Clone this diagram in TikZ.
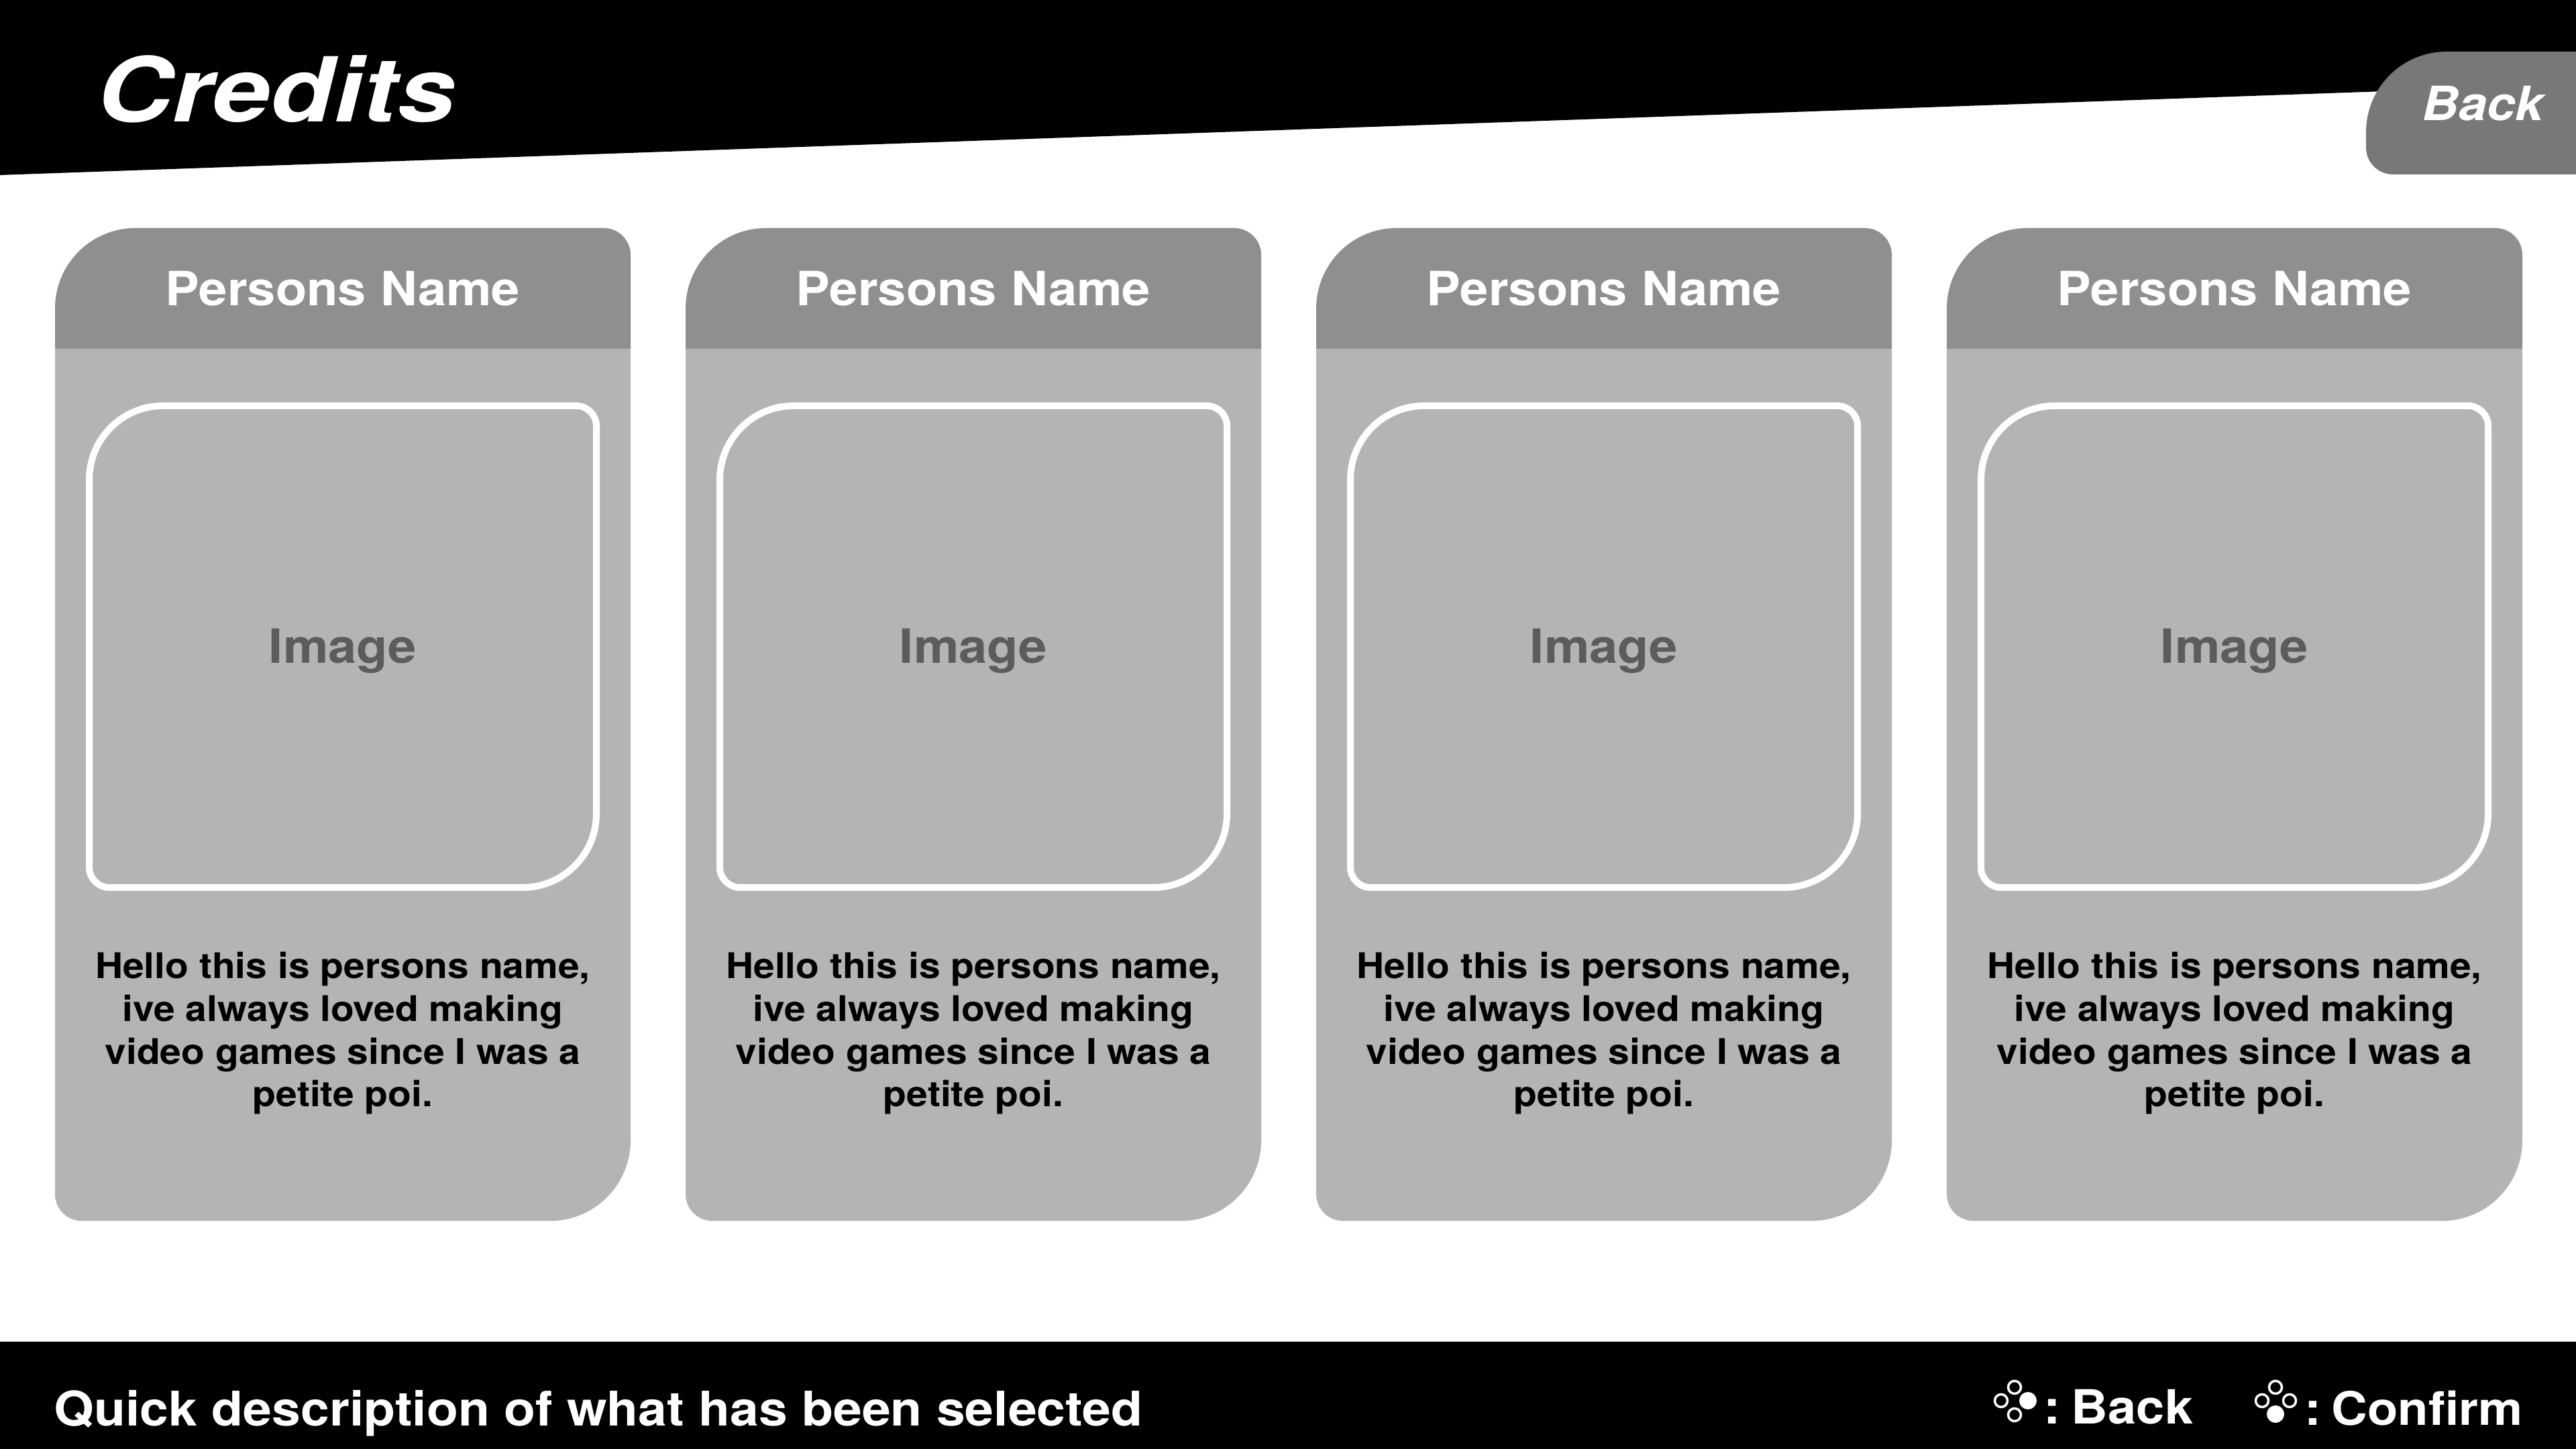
\documentclass[tikz,border=0pt]{standalone}
\usepackage{fontspec}
\setmainfont{TeX Gyre Heros}[FakeStretch=1.08]
\newfontfamily\titlefont{TeX Gyre Heros}[FakeStretch=1.16]
\usepackage{xcolor}
\usetikzlibrary{calc, positioning}
\definecolor{cardHeadGray}{HTML}{8F8F8F}
\definecolor{cardBodyGray}{HTML}{B4B4B4}
\definecolor{tabGray}{HTML}{787878}
\definecolor{imageGray}{HTML}{5C5C5C}
\tikzset{
    cardHead/.style={fill=cardHeadGray, draw=none},
    cardBody/.style={fill=cardBodyGray, draw=none},
    imageFrame/.style={draw=white, line width=0.1cm},
    nameText/.style={anchor=base, text=white, font=\bfseries\fontsize{20}{24}\selectfont},
    imageText/.style={anchor=base, text=imageGray, font=\bfseries\fontsize{20}{24}\selectfont},
    bioText/.style={anchor=north, align=center, text=black, font=\bfseries\fontsize{15}{18.14}\selectfont},
    footText/.style={anchor=base west, inner sep=0pt, text=white, font=\bfseries\fontsize{20}{24}\selectfont},
    ring/.style={draw=white, line width=0.035cm},
    dot/.style={fill=white}
}
\begin{document}
\begin{tikzpicture}
        \path[use as bounding box, fill=white] (0,0) rectangle (38.4,21.6);

        % Title bar
        \fill[black] (0,21.6) -- (38.4,21.6) -- (38.4,20.34) -- (0,18.99) -- cycle;
        \node[anchor=base west, inner sep=0pt, text=white, font=\titlefont\bfseries\itshape\fontsize{38}{46}\selectfont] (title) at (1.44,19.78) {Credits};

        % Back tab
        \fill[tabGray] (38.4,19) [rounded corners=0.4cm] -- (35.27,19) [rounded corners=1.2cm] -- (35.27,20.83) [sharp corners] -- (38.4,20.83) -- cycle;
        \node[anchor=base west, inner sep=0pt, text=white, font=\bfseries\itshape\fontsize{20}{24}\selectfont] (tabBack) at (36.1,19.8) {Back};

        % Cards
        \foreach \i/\x in {1/0.82, 2/10.22, 3/19.62, 4/29.02} {
            \begin{scope}[xshift=\x cm]
                \fill[cardHead] (0,16.4) [rounded corners=1.2cm] -- (0,18.2) [rounded corners=0.4cm] -- (8.58,18.2) [sharp corners] -- (8.58,16.4) -- cycle;
                \fill[cardBody] (0,16.4) [rounded corners=0.4cm] -- (0,3.4) [rounded corners=1.2cm] -- (8.58,3.4) [sharp corners] -- (8.58,16.4) -- cycle;
                \draw[imageFrame] (0.51,12) [rounded corners=1.1cm] -- (0.51,15.55) [rounded corners=0.3cm] -- (8.07,15.55) -- (8.07,12) [rounded corners=1.1cm] -- (8.07,8.37) [rounded corners=0.3cm] -- (0.51,8.37) -- cycle;
                \node[nameText] (name\i) at (4.29,17.04) {Persons Name};
                \node[imageText] (image\i) at (4.29,11.71) {Image};
                \node[bioText] (bio\i) at (4.29,7.53) {Hello this is persons name,\\ive always loved making\\video games since I was a\\petite poi.};
            \end{scope}
        }

        % Footer
        \fill[black] (0,0) rectangle (38.4,1.6);
        \node[footText, font=\bfseries\fontsize{20.25}{24}\selectfont] (desc) at (0.8,0.34) {Quick description of what has been selected};

        % Button icons
        \foreach \x/\y in {30.03/0.92, 29.83/0.72, 30.03/0.51, 33.92/0.92, 33.72/0.72, 34.13/0.72} {
            \draw[ring] (\x,\y) circle (0.095cm);
        }
        \fill[dot] (30.23,0.72) circle (0.13cm);
        \fill[dot] (33.92,0.52) circle (0.13cm);
        \node[footText] (keyBack) at (30.46,0.37) {:\kern-0.08em\ Back};
        \node[footText, font=\bfseries\fontsize{19.6}{24}\selectfont] (keyConfirm) at (34.35,0.35) {:\kern-0.08em\ Confirm};
\end{tikzpicture}
\end{document}
